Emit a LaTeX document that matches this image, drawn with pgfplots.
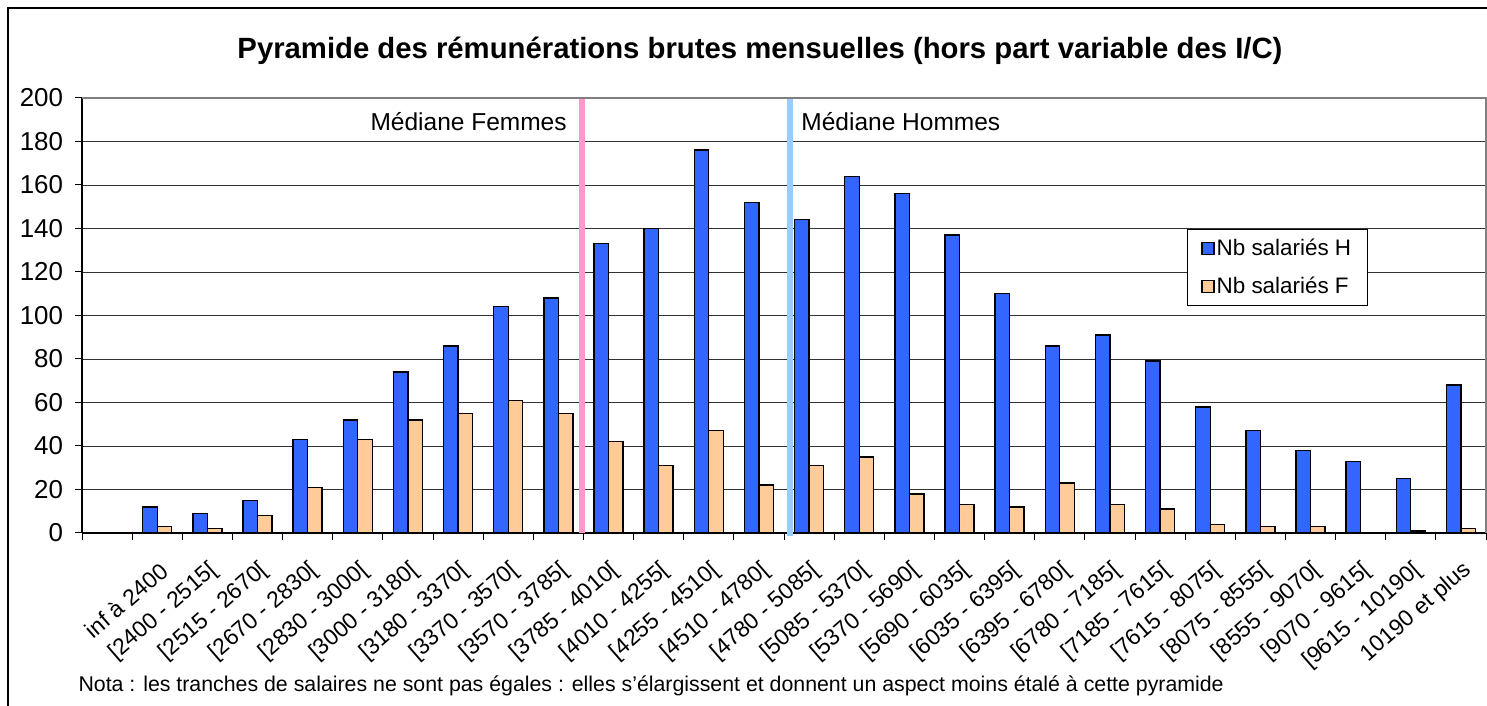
\documentclass[border=0pt]{standalone}
\usepackage{fontspec}
\setmainfont{Liberation Sans}
\usepackage{pgfplots}
\pgfplotsset{compat=1.18}
\definecolor{barH}{HTML}{3366FF}
\definecolor{barF}{HTML}{FFCC99}
\definecolor{medF}{HTML}{FF99CC}
\definecolor{medH}{HTML}{99CCFF}
\pgfplotsset{sqlegend/.style={legend image code/.code={\draw[##1, line width=1.2bp] (0bp,-6bp) rectangle (12bp,6bp);}}}
\begin{document}
\begin{tikzpicture}[x=1bp,y=1bp]
\useasboundingbox (0,0) rectangle (1487,706);
\fill[white] (0,0) rectangle (1487,706);
\draw[black, line width=1.5bp] (8,0) -- (8,698) -- (1487,698);
\node[anchor=base, font=\bfseries\fontsize{29.4}{34}\selectfont] at (760,647) {Pyramide des rémunérations brutes mensuelles (hors part variable des I/C)};
\node[anchor=base west, font=\fontsize{21.4}{25}\selectfont] at (75,14) {Nota : les tranches de salaires ne sont pas égales : elles s'élargissent et donnent un aspect moins étalé à cette pyramide};
\begin{axis}[
  at={(82bp,173bp)}, anchor=south west, scale only axis,
  width=1404bp, height=435bp,
  xmin=-0.5, xmax=27.5, ymin=0, ymax=200,
  axis x line*=bottom, axis y line*=left,
  axis line style={-, black, line width=1.2bp},
  ytick={0,20,...,200},
  ymajorgrids, grid style={black!80, line width=0.8bp},
  tick align=outside, major tick length=7.5bp,
  tick style={black, line width=1bp},
  /pgf/number format/assume math mode=true,
  yticklabel style={font=\fontsize{26}{30}\selectfont, xshift=-8bp},
  xtick={-0.5,0.5,...,27.5},
  x tick label as interval,
  xticklabels={{},{inf à 2400},{[2400 - 2515[},{[2515 - 2670[},{[2670 - 2830[},{[2830 - 3000[},{[3000 - 3180[},{[3180 - 3370[},{[3370 - 3570[},{[3570 - 3785[},{[3785 - 4010[},{[4010 - 4255[},{[4255 - 4510[},{[4510 - 4780[},{[4780 - 5085[},{[5085 - 5370[},{[5370 - 5690[},{[5690 - 6035[},{[6035 - 6395[},{[6395 - 6780[},{[6780 - 7185[},{[7185 - 7615[},{[7615 - 8075[},{[8075 - 8555[},{[8555 - 9070[},{[9070 - 9615[},{[9615 - 10190[},{10190 et plus}},
  xticklabel style={font=\fontsize{23}{27}\selectfont, rotate=41, anchor=east, inner sep=1bp, xshift=-11bp, yshift=-25bp},
  legend style={at={(0.787,0.699)}, anchor=north west, draw=black, line width=1bp,
    font=\fontsize{22.5}{27}\selectfont, row sep=16bp, inner xsep=14bp, inner ysep=8bp,
    nodes={inner xsep=2bp}},
  legend cell align=left,
  clip=false,
]
\addplot[ybar, bar width=0.29, bar shift=-0.145, fill=barH, draw=black, line width=1.4bp, sqlegend]
  coordinates {(1,12) (2,9) (3,15) (4,43) (5,52) (6,74) (7,86) (8,104) (9,108) (10,133) (11,140) (12,176) (13,152) (14,144) (15,164) (16,156) (17,137) (18,110) (19,86) (20,91) (21,79) (22,58) (23,47) (24,38) (25,33) (26,25) (27,68)};
\addlegendentry{Nb salariés H}
\addplot[ybar, bar width=0.29, bar shift=0.145, fill=barF, draw=black, line width=1.4bp, sqlegend]
  coordinates {(1,3) (2,2) (3,8) (4,21) (5,43) (6,52) (7,55) (8,61) (9,55) (10,42) (11,31) (12,47) (13,22) (14,31) (15,35) (16,18) (17,13) (18,12) (19,23) (20,13) (21,11) (22,4) (23,3) (24,3) (25,0) (26,1) (27,2)};
\addlegendentry{Nb salariés F}
\addplot[medF, line width=6bp, forget plot] coordinates {(9.47,0) (9.47,200)};
\addplot[medH, line width=6bp, forget plot] coordinates {(13.62,-1.5) (13.62,200)};
\draw[gray, line width=2bp] (rel axis cs:0,1) -- (rel axis cs:1,1) -- (rel axis cs:1,0);
\node[font=\fontsize{24.6}{29}\selectfont] at (axis cs:7.21,189.3) {Médiane Femmes};
\node[font=\fontsize{24.6}{29}\selectfont] at (axis cs:15.83,189.3) {Médiane Hommes};
\end{axis}
\end{tikzpicture}
\end{document}
